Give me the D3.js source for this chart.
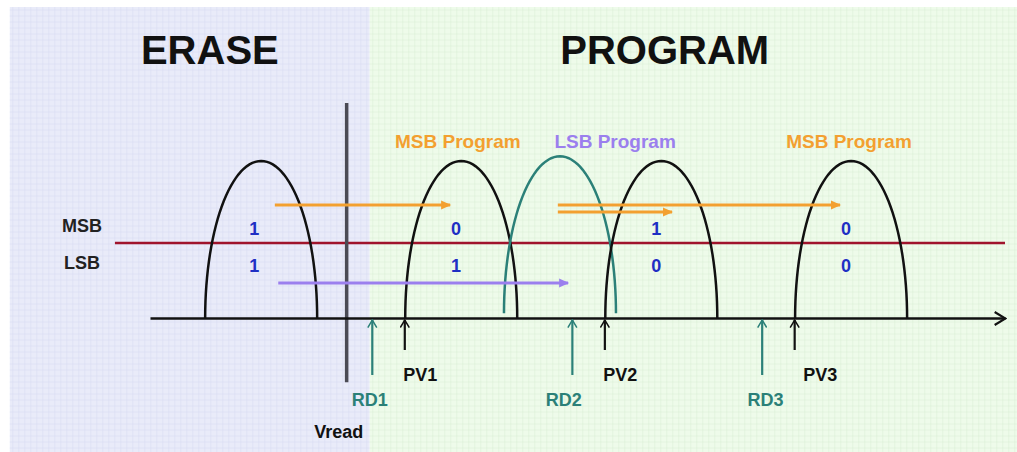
<!DOCTYPE html>
<html>
<head>
<meta charset="utf-8">
<script src="https://cdn.jsdelivr.net/npm/d3@7"></script>
<style>
  body { margin: 0; background: #fff; }
  text { font-family: "Liberation Sans", Arial, sans-serif; font-weight: bold; }
</style>
</head>
<body>
<svg id="graph" width="1017" height="452"></svg>
<script>
// ---- data (threshold voltage in arbitrary units, level 0..1 = axis..peak) ----
var regionNames = ['ERASE', 'PROGRAM'];
var regionEdges = [-16.4, 25.7, 101.5];
var regionTitleX = [7.0, 60.2];

var distCenters = [13.0, 36.4, 47.95, 59.8, 82.0];
var distHalfWidth = [6.55, 6.55, 6.55, 6.55, 6.55];
var distBase = [0, 0, 0.03, 0, 0];
var distPeak = [1, 1, 1.03, 1, 1];
var distIsLsb = [false, false, true, false, false];

var bitX = [12.2, 35.8, 59.2, 81.4];
var msbBits = ['1', '0', '1', '0'];
var lsbBits = ['1', '1', '0', '0'];

var stepLabels = ['MSB Program', 'LSB Program', 'MSB Program'];
var stepLabelX = [36.0, 54.4, 81.75];
var stepIsLsb = [false, true, false];

// shift arrows: [from, to, level]
var msbShifts = [[14.6, 35.1, 0.72], [47.7, 80.7, 0.72], [47.7, 61.05, 0.675]];
var lsbShifts = [[15.0, 48.9, 0.223]];

var pvNames = ['PV1', 'PV2', 'PV3'];
var pvX = [29.8, 53.2, 75.4];
var pvLabelX = [31.6, 55.0, 78.4];
var rdNames = ['RD1', 'RD2', 'RD3'];
var rdX = [26.0, 49.4, 71.6];
var rdLabelX = [25.7, 48.4, 72.0];
var vreadX = 23.0;

var COLORS = {
  msb: '#f3a030', lsb: '#9b7fee', teal: '#2b8078', bit: '#1f2fc4',
  split: '#a0142c', gray: '#4b4b55'
};

var svg = d3.select('#graph');
var x = d3.scaleLinear().domain([0, 100]).range([150, 1005]);
var y = d3.scaleLinear().domain([0, 1]).range([318, 161]);

// ---- markers ----
var defs = svg.append('defs');
function filledHead(id, color) {
  defs.append('marker').attr('id', id)
    .attr('markerUnits', 'userSpaceOnUse')
    .attr('viewBox', '0 -5 10 10').attr('refX', 9).attr('refY', 0)
    .attr('markerWidth', 12).attr('markerHeight', 10).attr('orient', 'auto')
    .append('path').attr('d', 'M0,-4.5L10,0L0,4.5Z').attr('fill', color);
}
function openHead(id, color, size) {
  defs.append('marker').attr('id', id)
    .attr('markerUnits', 'userSpaceOnUse')
    .attr('viewBox', '-1 -7 12 14').attr('refX', 10).attr('refY', 0)
    .attr('markerWidth', size).attr('markerHeight', size * 14 / 12).attr('orient', 'auto')
    .append('path').attr('d', 'M0,-6L10,0L0,6').attr('fill', 'none')
    .attr('stroke', color).attr('stroke-width', 2);
}
filledHead('headMsb', COLORS.msb);
filledHead('headLsb', COLORS.lsb);
openHead('headAxis', '#111', 13);
openHead('headPv', '#111', 9);
openHead('headRd', COLORS.teal, 9);

// ---- background panels with grid ----
var fills = ['#e9ebf9', '#eefbea'];
var gridCols = ['#d6daf2', '#d9eed4'];
regionNames.forEach(function (name, i) {
  var x0 = x(regionEdges[i]), x1 = x(regionEdges[i + 1]);
  var g = svg.append('g').attr('class', 'panel');
  g.append('rect').attr('x', x0).attr('y', 7).attr('width', x1 - x0).attr('height', 445)
    .attr('fill', fills[i]);
  g.selectAll('line.v').data(d3.range(x0 + 3, x1, 6)).enter().append('line')
    .attr('x1', function (d) { return d; }).attr('x2', function (d) { return d; })
    .attr('y1', 7).attr('y2', 452)
    .attr('stroke', gridCols[i]).attr('stroke-width', 1).attr('opacity', 0.45);
  g.selectAll('line.h').data(d3.range(10, 452, 6)).enter().append('line')
    .attr('x1', x0).attr('x2', x1)
    .attr('y1', function (d) { return d; }).attr('y2', function (d) { return d; })
    .attr('stroke', gridCols[i]).attr('stroke-width', 1).attr('opacity', 0.45);
  g.append('text').attr('x', x(regionTitleX[i])).attr('y', y(1.707))
    .attr('text-anchor', 'middle').attr('dominant-baseline', 'central')
    .attr('font-size', 40).attr('fill', '#111').text(name);
});

// ---- MSB / LSB split line ----
svg.append('line').attr('x1', x(-4.1)).attr('x2', x(100))
  .attr('y1', y(0.478)).attr('y2', y(0.478))
  .attr('stroke', COLORS.split).attr('stroke-width', 2.5);

// ---- Vread line ----
svg.append('line').attr('x1', x(vreadX)).attr('x2', x(vreadX))
  .attr('y1', y(1.37)).attr('y2', y(-0.41))
  .attr('stroke', COLORS.gray).attr('stroke-width', 3.5);

// ---- x axis ----
var xAxis = d3.axisBottom(x).tickValues([]).tickSizeOuter(0);
var axisG = svg.append('g').attr('class', 'x axis')
  .attr('transform', 'translate(0,' + y(0) + ')').call(xAxis);
axisG.select('.domain').attr('stroke', '#111').attr('stroke-width', 2.5)
  .attr('marker-end', 'url(#headAxis)');

// ---- distributions (half-ellipse arches) ----
var lineGen = d3.line().x(function (d) { return d[0]; }).y(function (d) { return d[1]; });
distCenters.forEach(function (c, i) {
  var pts = d3.range(0, 181, 3).map(function (a) {
    var t = a * Math.PI / 180;
    return [x(c - distHalfWidth[i] * Math.cos(t)),
            y(distBase[i] + (distPeak[i] - distBase[i]) * Math.sin(t))];
  });
  svg.append('path').attr('d', lineGen(pts)).attr('fill', 'none')
    .attr('stroke', distIsLsb[i] ? COLORS.teal : '#111').attr('stroke-width', 2.5);
});

// ---- row labels and bits ----
svg.append('text').attr('x', 82).attr('y', y(0.586)).attr('text-anchor', 'middle')
  .attr('dominant-baseline', 'central').attr('font-size', 18).attr('fill', '#222').text('MSB');
svg.append('text').attr('x', 82).attr('y', y(0.35)).attr('text-anchor', 'middle')
  .attr('dominant-baseline', 'central').attr('font-size', 18).attr('fill', '#222').text('LSB');

svg.selectAll('text.msbbit').data(msbBits).enter().append('text').attr('class', 'msbbit')
  .attr('x', function (d, i) { return x(bitX[i]); }).attr('y', y(0.566))
  .attr('text-anchor', 'middle').attr('dominant-baseline', 'central')
  .attr('font-size', 18).attr('fill', COLORS.bit).text(function (d) { return d; });
svg.selectAll('text.lsbbit').data(lsbBits).enter().append('text').attr('class', 'lsbbit')
  .attr('x', function (d, i) { return x(bitX[i]); }).attr('y', y(0.331))
  .attr('text-anchor', 'middle').attr('dominant-baseline', 'central')
  .attr('font-size', 18).attr('fill', COLORS.bit).text(function (d) { return d; });

// ---- program step labels ----
svg.selectAll('text.step').data(stepLabels).enter().append('text').attr('class', 'step')
  .attr('x', function (d, i) { return x(stepLabelX[i]); }).attr('y', y(1.127))
  .attr('text-anchor', 'middle').attr('dominant-baseline', 'central')
  .attr('font-size', 19).attr('fill', function (d, i) { return stepIsLsb[i] ? COLORS.lsb : COLORS.msb; })
  .text(function (d) { return d; });

// ---- shift arrows ----
msbShifts.forEach(function (s) {
  svg.append('line').attr('x1', x(s[0])).attr('x2', x(s[1]))
    .attr('y1', y(s[2])).attr('y2', y(s[2]))
    .attr('stroke', COLORS.msb).attr('stroke-width', 3).attr('marker-end', 'url(#headMsb)');
});
lsbShifts.forEach(function (s) {
  svg.append('line').attr('x1', x(s[0])).attr('x2', x(s[1]))
    .attr('y1', y(s[2])).attr('y2', y(s[2]))
    .attr('stroke', COLORS.lsb).attr('stroke-width', 3).attr('marker-end', 'url(#headLsb)');
});

// ---- verify / read levels ----
pvX.forEach(function (v, i) {
  svg.append('line').attr('x1', x(v)).attr('x2', x(v))
    .attr('y1', y(-0.204)).attr('y2', y(-0.013))
    .attr('stroke', '#111').attr('stroke-width', 2.2).attr('marker-end', 'url(#headPv)');
  svg.append('text').attr('x', x(pvLabelX[i])).attr('y', y(-0.363))
    .attr('text-anchor', 'middle').attr('dominant-baseline', 'central')
    .attr('font-size', 18).attr('fill', '#111').text(pvNames[i]);
});
rdX.forEach(function (v, i) {
  svg.append('line').attr('x1', x(v)).attr('x2', x(v))
    .attr('y1', y(-0.363)).attr('y2', y(-0.013))
    .attr('stroke', COLORS.teal).attr('stroke-width', 2.2).attr('marker-end', 'url(#headRd)');
  svg.append('text').attr('x', x(rdLabelX[i])).attr('y', y(-0.522))
    .attr('text-anchor', 'middle').attr('dominant-baseline', 'central')
    .attr('font-size', 18).attr('fill', COLORS.teal).text(rdNames[i]);
});
svg.append('text').attr('x', x(vreadX) - 8).attr('y', y(-0.726))
  .attr('text-anchor', 'middle').attr('dominant-baseline', 'central')
  .attr('font-size', 18).attr('fill', '#111').text('Vread');
</script>
</body>
</html>
